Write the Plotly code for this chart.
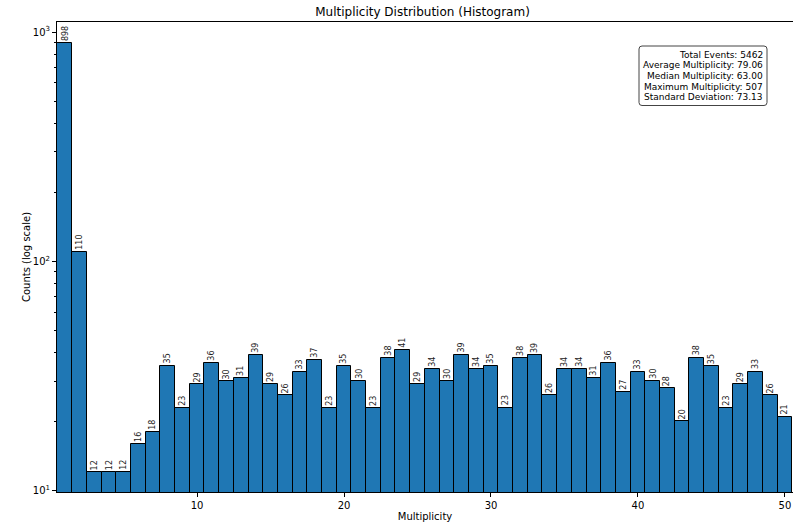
import math
import plotly.graph_objects as go

# Multiplicity bins (integer centres) and event counts per bin
multiplicity = list(range(1, 51))
counts = [898, 110, 12, 12, 12, 16, 18, 35, 23, 29,
          36, 30, 31, 39, 29, 26, 33, 37, 23, 35,
          30, 23, 38, 41, 29, 34, 30, 39, 34, 35,
          23, 38, 39, 26, 34, 34, 31, 36, 27, 33,
          30, 28, 20, 38, 35, 23, 29, 33, 26, 21]

stats_lines = [
    "Total Events: 5462",
    "Average Multiplicity: 79.06",
    "Median Multiplicity: 63.00",
    "Maximum Multiplicity: 507",
    "Standard Deviation: 73.13",
]

y_major = [10, 100, 1000]
y_major_text = ["10<sup>1</sup>", "10<sup>2</sup>", "10<sup>3</sup>"]
y_minor = [m * 10 ** e for e in (0, 1, 2, 3) for m in range(2, 10)]

font_family = "DejaVu Sans"

W, H = 793, 523
M_L, M_R, M_T, M_B = 57, 0, 22, 31
plot_w = W - M_L - M_R
plot_h = H - M_T - M_B


def px_to_paper(px, py):
    return (px - M_L) / plot_w, (H - M_B - py) / plot_h


fig = go.Figure()
fig.add_trace(go.Bar(
    x=multiplicity,
    y=counts,
    width=1,
    marker=dict(color="#1f77b4", line=dict(color="black", width=1)),
    showlegend=False,
))

# Count labels, rotated, sitting on top of each bar
annotations = [
    dict(x=m, y=math.log10(c), xref="x", yref="y",
         text=str(c), textangle=-90, showarrow=False,
         xanchor="center", yanchor="bottom",
         font=dict(size=8, color="#222222", family=font_family))
    for m, c in zip(multiplicity, counts)
]

# Summary statistics box: one right-aligned line per statistic
line_step = 10.7
first_line_y = 54.5
text_right = 765
for i, line in enumerate(stats_lines):
    ax, ay = px_to_paper(text_right, first_line_y + i * line_step)
    annotations.append(dict(
        xref="paper", yref="paper", x=ax, y=ay,
        xanchor="right", yanchor="middle", text=line, showarrow=False,
        font=dict(size=9.0, family=font_family, color="black"),
    ))

bx0, by1 = px_to_paper(639, 46)
bx1, by0 = px_to_paper(767, 105.5)
rx, ry = 3 / plot_w, 3 / plot_h
box_path = (
    f"M {bx0 + rx} {by1} L {bx1 - rx} {by1} Q {bx1} {by1} {bx1} {by1 - ry} "
    f"L {bx1} {by0 + ry} Q {bx1} {by0} {bx1 - rx} {by0} "
    f"L {bx0 + rx} {by0} Q {bx0} {by0} {bx0} {by0 + ry} "
    f"L {bx0} {by1 - ry} Q {bx0} {by1} {bx0 + rx} {by1} Z"
)

fig.update_layout(
    width=W,
    height=H,
    margin=dict(l=M_L, r=M_R, t=M_T, b=M_B),
    paper_bgcolor="white",
    plot_bgcolor="white",
    bargap=0,
    font=dict(family=font_family, color="black", size=10),
    title=dict(text="Multiplicity Distribution (Histogram)", x=0.5328, xanchor="center",
               y=0.977, yanchor="middle", font=dict(size=12, family=font_family)),
    xaxis=dict(
        range=[0.47, 50.55],
        tickvals=[10, 20, 30, 40, 50],
        ticks="outside", ticklen=4, tickcolor="black",
        showline=True, linecolor="black", linewidth=1, mirror=True,
        showgrid=False, zeroline=False,
        tickfont=dict(size=10),
        title=dict(text="Multiplicity", font=dict(size=10), standoff=2),
    ),
    yaxis=dict(
        type="log",
        range=[0.993, 3.044],
        tickvals=y_major, ticktext=y_major_text,
        ticks="outside", ticklen=4, tickcolor="black",
        minor=dict(tickvals=y_minor, ticks="outside", ticklen=2, tickcolor="black", showgrid=False),
        showline=True, linecolor="black", linewidth=1,
        showgrid=False, zeroline=False,
        tickfont=dict(size=10),
        title=dict(text="Counts (log scale)", font=dict(size=10), standoff=0),
    ),
    shapes=[dict(type="path", xref="paper", yref="paper", path=box_path,
                 fillcolor="rgba(255,255,255,0.9)", line=dict(color="#444444", width=1),
                 layer="above")],
    annotations=annotations,
)

fig.write_html("out.html")
